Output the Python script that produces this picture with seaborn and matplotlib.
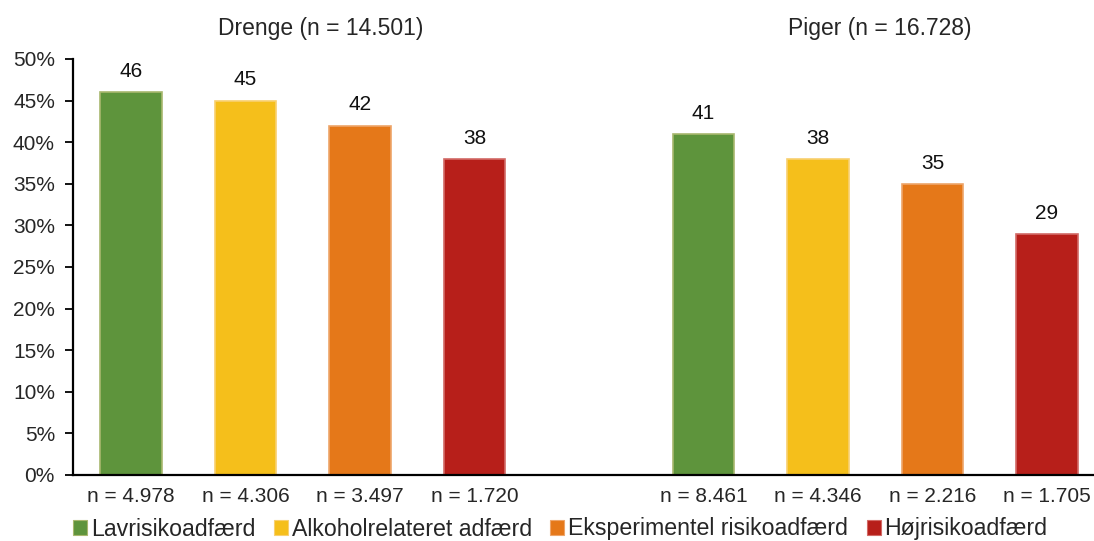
import matplotlib
matplotlib.use("Agg")
import matplotlib.pyplot as plt
import seaborn as sns
import pandas as pd
from matplotlib.patches import Patch

categories = ["Lavrisikoadfærd", "Alkoholrelateret adfærd", "Eksperimentel risikoadfærd", "Højrisikoadfærd"]
colors = ["#5E943C", "#F5BF1B", "#E57819", "#B71F1A"]
edge_colors = ["#A8B76E", "#F8D070", "#EEA56A", "#D26A66"]
groups = ["Drenge (n = 14.501)", "Piger (n = 16.728)"]
drenge_values = [46, 45, 42, 38]
piger_values = [41, 38, 35, 29]
drenge_n = ["n = 4.978", "n = 4.306", "n = 3.497", "n = 1.720"]
piger_n = ["n = 8.461", "n = 4.346", "n = 2.216", "n = 1.705"]

gap_label = " "
order = drenge_n + [gap_label] + piger_n
df = pd.DataFrame({
    "label": drenge_n + piger_n,
    "value": drenge_values + piger_values,
    "category": categories + categories,
})

sns.set_style("white")
plt.rcParams["font.family"] = ["Liberation Sans", "DejaVu Sans"]

fig = plt.figure(figsize=(10.94, 5.41), dpi=100)
ax = fig.add_axes([73 / 1094, 1 - 475 / 541, 1 - 73 / 1094, (475 - 59) / 541])

sns.barplot(data=df, x="label", y="value", hue="category", order=order,
            hue_order=categories, palette=colors, dodge=False, width=0.54,
            legend=False, ax=ax, saturation=1)

# bar edges
for patch in ax.patches:
    fc = patch.get_facecolor()
    for c, ec in zip(colors, edge_colors):
        if matplotlib.colors.to_hex(fc).lower() == c.lower():
            patch.set_edgecolor(ec)
            patch.set_linewidth(1.2)

for patch in ax.patches:
    h = patch.get_height()
    if h and h > 0:
        ax.annotate(f"{h:.0f}", (patch.get_x() + patch.get_width() / 2, h),
                    xytext=(0, 8), textcoords="offset points",
                    ha="center", va="bottom", fontsize=15, color="#111111")

ax.set_ylim(0, 50)
ax.set_xlim(-0.507, 8.41)
ax.set_yticks(range(0, 51, 5))
ax.set_yticklabels([f"{v}%" for v in range(0, 51, 5)])
ax.set_xlabel("")
ax.set_ylabel("")
ax.tick_params(axis="y", which="both", left=True, length=6, width=1.3,
               labelsize=15, pad=7, color="black", direction="out")
ax.tick_params(axis="x", length=0, labelsize=15, pad=9)
for s in ["top", "right"]:
    ax.spines[s].set_visible(False)
for s in ["left", "bottom"]:
    ax.spines[s].set_color("black")
    ax.spines[s].set_linewidth(1.6)
ax.grid(False)

# group titles
ax.text(1.66, 1 + 31 / 416, groups[0], transform=ax.get_xaxis_transform(),
        ha="center", va="center", fontsize=16.5)
ax.text(6.54, 1 + 31 / 416, groups[1], transform=ax.get_xaxis_transform(),
        ha="center", va="center", fontsize=16.5)

handles = [Patch(facecolor=c, edgecolor=ec, linewidth=0.8) for c, ec in zip(colors, edge_colors)]
fig.legend(handles, categories, loc="center left", bbox_to_anchor=(73 / 1094, 1 - 529 / 541),
           ncol=4, frameon=False, fontsize=16.7, handlelength=0.6, handleheight=0.6,
           handletextpad=0.17, columnspacing=0.8, borderaxespad=0, borderpad=0)

fig.savefig("out.png", dpi=100)
